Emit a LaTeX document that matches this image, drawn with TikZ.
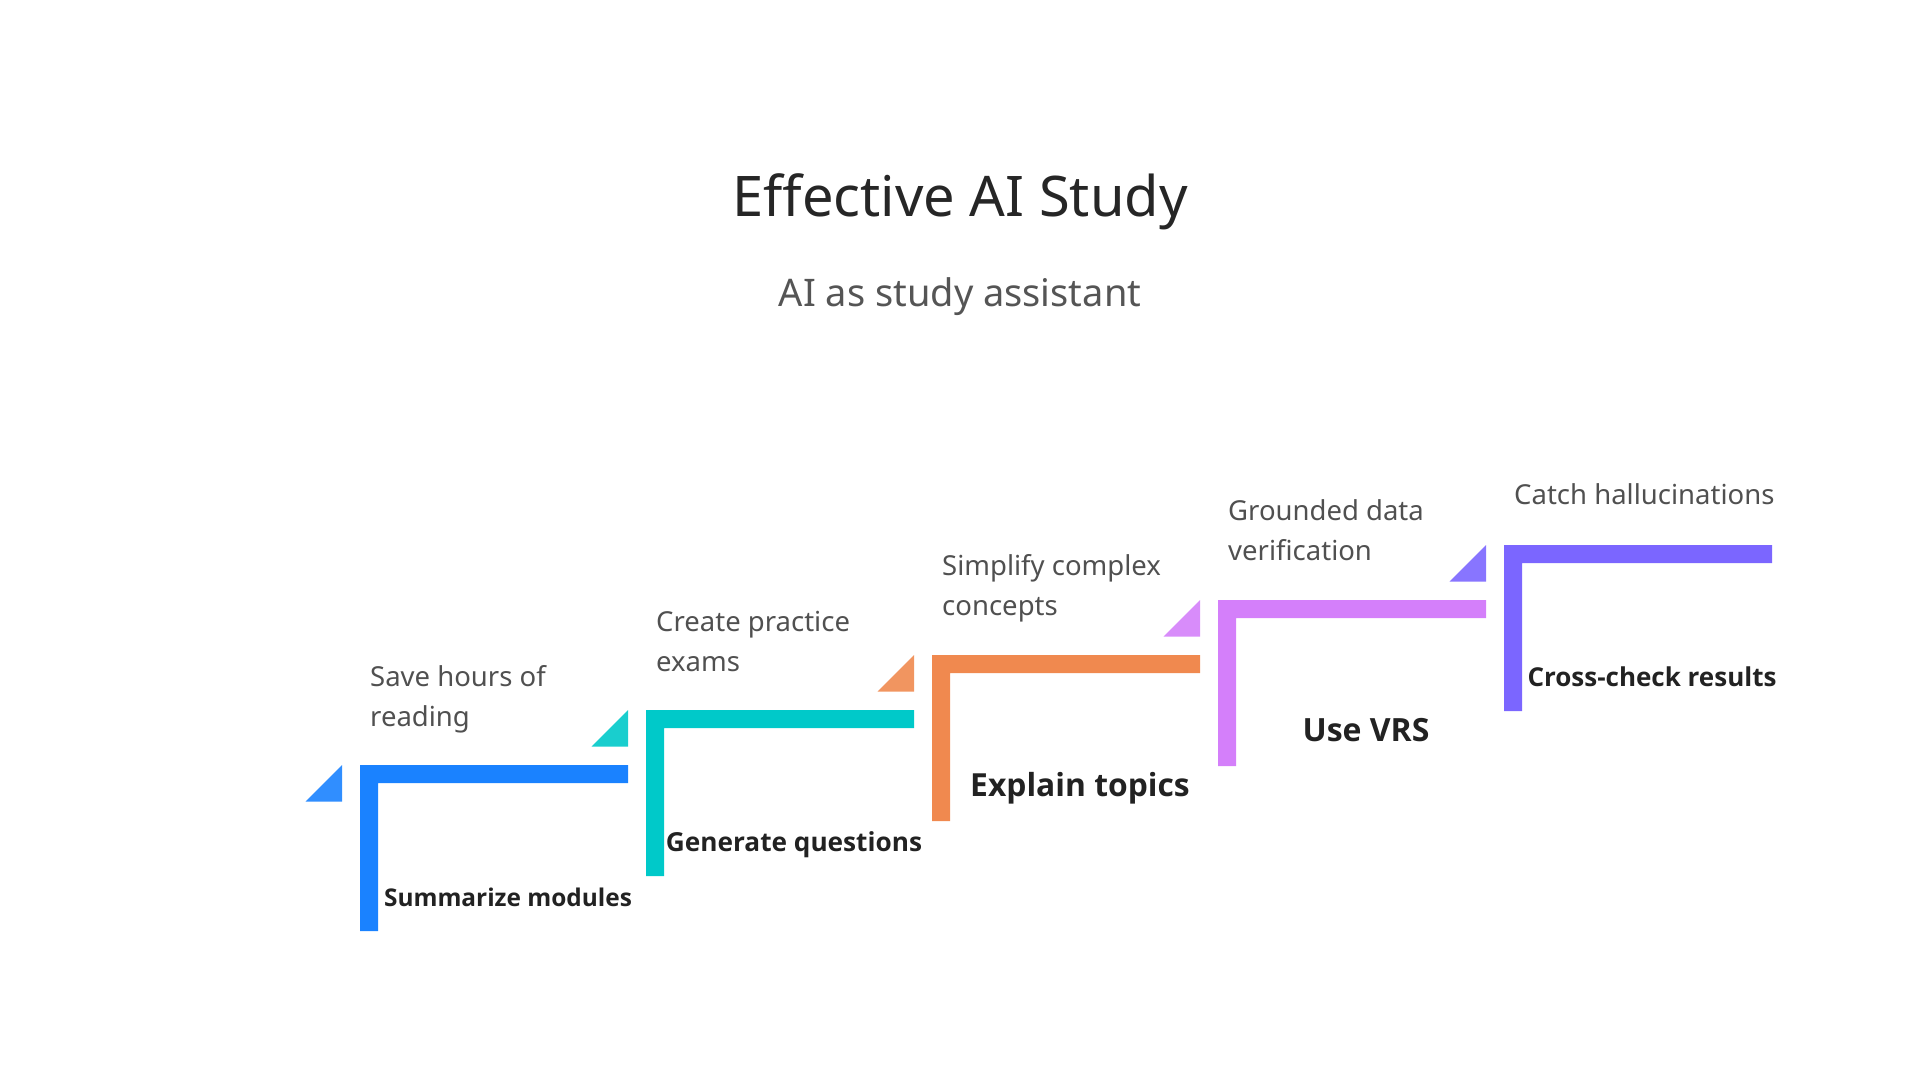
\documentclass[tikz,border=0pt]{standalone}
\usepackage{fontspec}
\setmainfont{Noto Sans}
\newfontfamily\labelfont{Open Sans}
\usetikzlibrary{positioning}

\definecolor{stepblue}{HTML}{1A82FF}
\definecolor{stepteal}{HTML}{00C9C9}
\definecolor{steporange}{HTML}{F0894F}
\definecolor{steppink}{HTML}{D47FFA}
\definecolor{stepviolet}{HTML}{7B66FF}
\definecolor{titlegray}{HTML}{262626}
\definecolor{subgray}{HTML}{555555}
\definecolor{notegray}{HTML}{505050}
\definecolor{labeldark}{HTML}{222222}

\begin{document}
\begin{tikzpicture}[
  x=1pt, y=-1pt,
  title/.style={font=\fontsize{56}{60}\selectfont, text=titlegray, inner sep=0pt},
  subtitle/.style={font=\fontsize{38}{42}\selectfont, text=subgray, inner sep=0pt},
  note/.style={font=\fontsize{27.5}{39.5}\selectfont, text=notegray,
               align=left, inner sep=0pt, anchor=base west},
  steplabel/.style={text=labeldark, inner sep=0pt, anchor=base},
  tri/.style={fill opacity=0.9}
]
  \useasboundingbox (0,0) rectangle (1920,1080);

  \node[title]    (head) at (960,216) [anchor=base] {Effective AI Study};
  \node[subtitle] (sub)  at (960,306) [anchor=base] {AI as study assistant};

  % corners of the steps
  \coordinate (s1) at (360,765);
  \coordinate (s2) at (646,710);
  \coordinate (s3) at (932,655);
  \coordinate (s4) at (1218,600);
  \coordinate (s5) at (1504,545);

  % step bars
  \fill[stepblue]   (s1) -- ++(268,0) -- ++(0,18) -- ++(-250,0) -- ++(0,148) -- ++(-18,0) -- cycle;
  \fill[stepteal]   (s2) -- ++(268,0) -- ++(0,18) -- ++(-250,0) -- ++(0,148) -- ++(-18,0) -- cycle;
  \fill[steporange] (s3) -- ++(268,0) -- ++(0,18) -- ++(-250,0) -- ++(0,148) -- ++(-18,0) -- cycle;
  \fill[steppink]   (s4) -- ++(268,0) -- ++(0,18) -- ++(-250,0) -- ++(0,148) -- ++(-18,0) -- cycle;
  \fill[stepviolet] (s5) -- ++(268,0) -- ++(0,18) -- ++(-250,0) -- ++(0,148) -- ++(-18,0) -- cycle;

  % small triangles
  \fill[tri, stepblue]   (s1) ++(-18,0) -- ++(0,36.5) -- ++(-36.5,0) -- cycle;
  \fill[tri, stepteal]   (s2) ++(-18,0) -- ++(0,36.5) -- ++(-36.5,0) -- cycle;
  \fill[tri, steporange] (s3) ++(-18,0) -- ++(0,36.5) -- ++(-36.5,0) -- cycle;
  \fill[tri, steppink]   (s4) ++(-18,0) -- ++(0,36.5) -- ++(-36.5,0) -- cycle;
  \fill[tri, stepviolet] (s5) ++(-18,0) -- ++(0,36.5) -- ++(-36.5,0) -- cycle;

  % notes above (base = last line)
  \node[note] (n1) at (370,726)  {Save hours of\\reading};
  \node[note] (n2) at (656,671)  {Create practice\\exams};
  \node[note] (n3) at (942,615)  {Simplify complex\\concepts};
  \node[note] (n4) at (1228,560) {Grounded data\\verification};
  \node[note] (n5) at (1514,504) {Catch hallucinations};

  % step labels
  \node[steplabel, font=\labelfont\bfseries\fontsize{24.4}{30}\selectfont] (l1) at (508,906)  {Summarize modules};
  \node[steplabel, font=\labelfont\bfseries\fontsize{26.2}{30}\selectfont] (l2) at (794,851)  {Generate questions};
  \node[steplabel, font=\labelfont\bfseries\fontsize{31.8}{36}\selectfont] (l3) at (1080,796) {Explain topics};
  \node[steplabel, font=\labelfont\bfseries\fontsize{32}{36}\selectfont]   (l4) at (1366,741) {Use VRS};
  \node[steplabel, font=\labelfont\bfseries\fontsize{26}{30}\selectfont]   (l5) at (1652,686) {Cross-check results};
\end{tikzpicture}
\end{document}
